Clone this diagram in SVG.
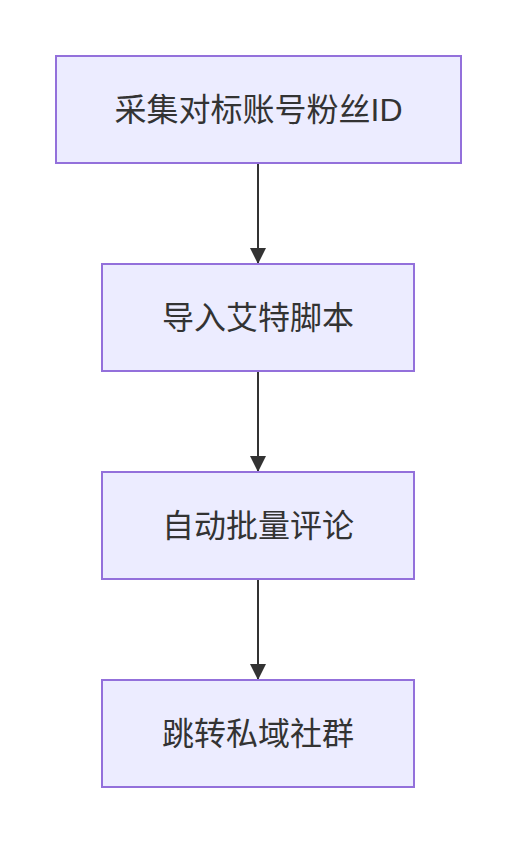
<svg xmlns="http://www.w3.org/2000/svg" width="516" height="844" viewBox="0 0 516 844">
<style>
.node rect{fill:#ECECFF;stroke:#9370DB;stroke-width:2}
.node text{font-family:"Liberation Sans","Noto Sans CJK SC",sans-serif;font-size:32px;fill:#333333;text-anchor:middle;dominant-baseline:central}
.edge{stroke:#333333;stroke-width:2;fill:none}
</style>
<defs>
<marker id="arrow" viewBox="0 0 16 16" refX="16" refY="8" markerWidth="16" markerHeight="16" markerUnits="userSpaceOnUse" orient="auto">
<path d="M0,0 L16,8 L0,16 z" fill="#333333"/>
</marker>
</defs>
<rect width="516" height="844" fill="#ffffff"/>
<g id="connectors">
<line class="edge" x1="258" y1="164" x2="258" y2="264" marker-end="url(#arrow)"/>
<line class="edge" x1="258" y1="372" x2="258" y2="472" marker-end="url(#arrow)"/>
<line class="edge" x1="258" y1="580" x2="258" y2="680" marker-end="url(#arrow)"/>
</g>
<g id="node1" class="node">
<rect x="56" y="56" width="405" height="107"/>
<text x="258.5" y="110">采集对标账号粉丝ID</text>
</g>
<g id="node2" class="node">
<rect x="102" y="264" width="312" height="107"/>
<text x="258" y="318">导入艾特脚本</text>
</g>
<g id="node3" class="node">
<rect x="102" y="472" width="312" height="107"/>
<text x="258" y="526">自动批量评论</text>
</g>
<g id="node4" class="node">
<rect x="102" y="680" width="312" height="107"/>
<text x="258" y="734">跳转私域社群</text>
</g>
</svg>
